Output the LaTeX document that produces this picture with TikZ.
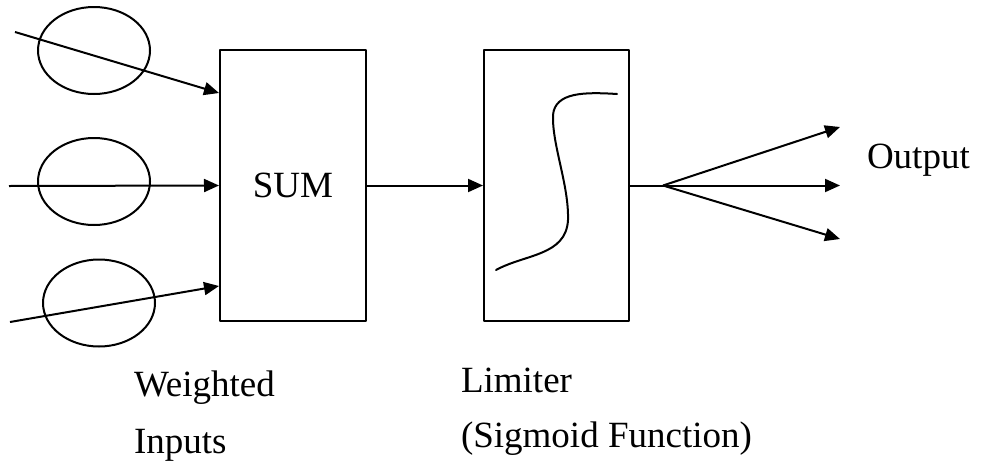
\documentclass[tikz,border=0pt]{standalone}
\usepackage{fontspec}
\setmainfont{Liberation Serif}
\usetikzlibrary{arrows.meta,shapes.geometric}
\begin{document}
\begin{tikzpicture}[x=1pt,y=-1pt,>={Triangle[length=15pt,width=13pt]}, line join = round, line width=2pt,font=\fontsize{37}{44}\selectfont]
			\useasboundingbox (0,0) rectangle (982,466);
			\tikzset{block/.style={draw, rectangle, minimum width=146pt, minimum height=271pt, inner sep=0pt},
				weight/.style={draw, ellipse, minimum width=112pt, minimum height=87pt, inner sep=0pt}}
			% blocks
			\node[block] (sum) at (293,185.5) {SUM};
			\node[block, minimum width=145pt] (lim) at (556.5,185.5) {};
			% weights on the inputs
			\node[weight] (w1) at (94,50.5) {};
			\node[weight] (w2) at (94,181.5) {};
			\node[weight] (w3) at (99,303) {};
			\coordinate (in1) at (15,32);
			\coordinate (in2) at (9,186);
			\coordinate (in3) at (10,322);
			\draw [->] (in1)--([yshift=92.5pt]sum.west);
			\draw [->] (in2)--(sum.west);
			\draw [->] (in3)--([yshift=-100.5pt]sum.west);
			\draw [->] (sum.east)--(lim.west);
			% sigmoid curve
			\draw [line cap=round] (496,270) .. controls (525,254) and (566,256) .. (568,220) .. controls (569,185) and (552,145) .. (553,115) .. controls (555,92) and (585,92) .. (617,94);
			% fan-out
			\coordinate (fan) at (663,185.5);
			\coordinate (o1) at (840,127);
			\coordinate (o2) at (840,185.5);
			\coordinate (o3) at (840,239);
			\draw (lim.east)--(fan);
			\foreach \o in {o1,o2,o3}
			\draw [->] (fan)--(\o);
			\node[anchor=base west, inner sep=0pt] (out) at (866,168) {Output};
			\node[anchor=base west, inner sep=0pt] (lw) at (133,396) {Weighted};
			\node[anchor=base west, inner sep=0pt] (li) at (133,453) {Inputs};
			\node[anchor=base west, inner sep=0pt] (ll) at (460,392) {Limiter};
			\node[anchor=base west, inner sep=0pt] (ls) at (460,447) {(Sigmoid Function)};
		\end{tikzpicture}
\end{document}
